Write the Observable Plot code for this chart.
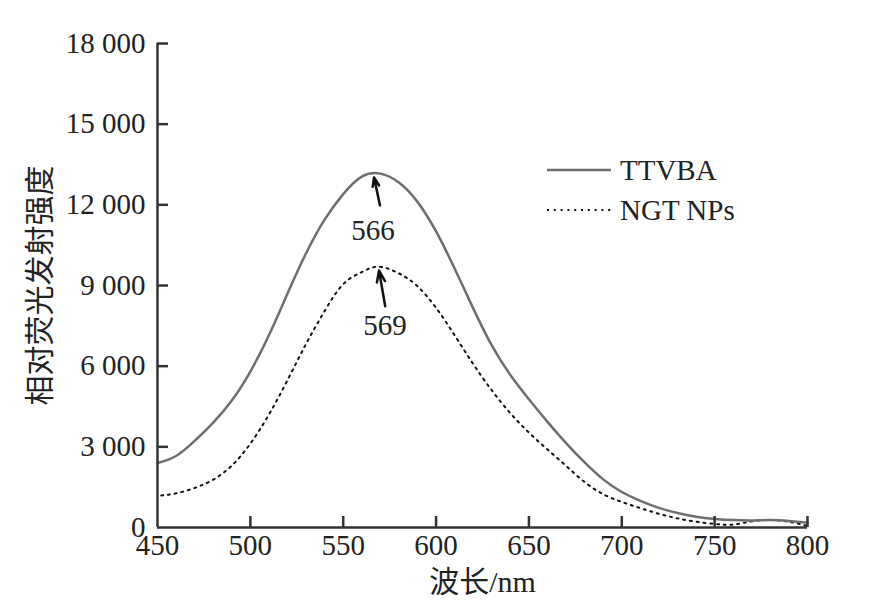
<!DOCTYPE html>
<html>
<head>
<meta charset="utf-8">
<script src="https://cdn.jsdelivr.net/npm/d3@7"></script>
<script src="https://cdn.jsdelivr.net/npm/@observablehq/plot@0.6"></script>
<style>
  body { margin: 0; background: #fff; }
  #wrap { position: relative; width: 869px; height: 615px; font-family: 'Liberation Serif', 'Noto Sans CJK SC', serif; }
  #legend { position: absolute; left: 546px; top: 150px; font-size: 29px; color: #222; line-height: 40px; }
  #legend div { display: flex; align-items: center; white-space: nowrap; }
  #legend svg { margin-right: 8px; }
</style>
</head>
<body>
<div id="wrap">
  <div id="chart"></div>
  <div id="legend"></div>
</div>
<script>
// Data
const seriesNames = ["TTVBA", "NGT NPs"];
const wlA = [450, 460, 470, 480, 490, 500, 510, 520, 530, 540, 550, 560, 570, 580, 590, 600, 610, 620, 630, 640, 650, 660, 670, 680, 690, 700, 710, 720, 730, 740, 750, 760, 770, 780, 790, 800];
const intA = [2400, 2660, 3220, 3900, 4720, 5800, 7150, 8700, 10200, 11450, 12400, 13050, 13160, 12830, 12110, 11010, 9630, 8150, 6770, 5670, 4770, 3930, 3140, 2420, 1790, 1320, 990, 730, 540, 400, 320, 275, 260, 275, 240, 180];
const wlB = [452, 460, 470, 480, 490, 500, 510, 520, 530, 540, 550, 560, 569, 580, 590, 600, 610, 620, 630, 640, 650, 660, 670, 680, 690, 700, 710, 720, 730, 740, 750, 756, 762, 770, 780, 790, 800];
const intB = [1190, 1270, 1470, 1780, 2300, 3120, 4200, 5480, 6830, 8050, 9050, 9500, 9700, 9450, 8970, 8170, 7150, 6080, 5100, 4250, 3530, 2900, 2290, 1690, 1240, 950, 720, 510, 340, 215, 135, 100, 125, 230, 280, 210, 60];
const xTicks = [450, 500, 550, 600, 650, 700, 750, 800];
const yTicks = [0, 3000, 6000, 9000, 12000, 15000, 18000];
const peakLabels = ["566", "569"];
const peakX = [566, 572.5];
const peakY = [11050, 7490];
const arrowX1 = [569.8, 572.6];
const arrowY1 = [11980, 8230];
const arrowX2 = [566.6, 569.3];
const arrowY2 = [13020, 9555];
const xLabel = "波长/nm";
const yLabel = "相对荧光发射强度";

const dataA = wlA.map((w, i) => ({w, v: intA[i]}));
const dataB = wlB.map((w, i) => ({w, v: intB[i]}));
const peaks = peakLabels.map((t, i) => ({t, x: peakX[i], y: peakY[i]}));
const arrows = arrowX1.map((x1, i) => ({x1, y1: arrowY1[i], x2: arrowX2[i], y2: arrowY2[i]}));

const fmt = d => d === 0 ? "0" : d3.format(",")(d).replace(/,/g, " ");

const W = 869, H = 615, ML = 157, MR = 62, MT = 43, MB = 88;
const frameW = W - ML - MR, frameH = H - MT - MB;
const tickLen = 11;
const axisColor = "#333";
const solidColor = "#6e6e6e";
const dotDash = "2,4.8";
const fontSize = 29;

const chart = Plot.plot({
  width: W, height: H,
  marginLeft: ML, marginRight: MR, marginTop: MT, marginBottom: MB,
  style: {fontFamily: "'Liberation Serif', 'Noto Sans CJK SC', serif", fontSize: fontSize + "px", color: "#222", background: "#fff"},
  x: {domain: [450, 800]},
  y: {domain: [0, 18000]},
  marks: [
    Plot.line(dataB, {x: "w", y: "v", stroke: "#111", strokeWidth: 2, strokeDasharray: dotDash, curve: "natural"}),
    Plot.line(dataA, {x: "w", y: "v", stroke: solidColor, strokeWidth: 2.5, curve: "natural"}),
    Plot.ruleX(xTicks.slice(1), {stroke: axisColor, strokeWidth: 2.5, insetTop: frameH - tickLen}),
    Plot.ruleY(yTicks.slice(1), {stroke: axisColor, strokeWidth: 2.5, insetRight: frameW - tickLen}),
    Plot.ruleX([450], {stroke: axisColor, strokeWidth: 2.5}),
    Plot.ruleY([0], {stroke: axisColor, strokeWidth: 2.5}),
    Plot.axisX({ticks: xTicks, tickSize: 0, tickPadding: 7, label: null}),
    Plot.axisY({ticks: yTicks, tickSize: 0, tickPadding: 12, tickFormat: fmt, label: null}),
    Plot.arrow(arrows, {x1: "x1", y1: "y1", x2: "x2", y2: "y2", stroke: "#111", strokeWidth: 2.5, headLength: 12, headAngle: 40}),
    Plot.text(peaks, {x: "x", y: "y", text: "t", fontSize, fill: "#222"}),
    Plot.text([xLabel], {frameAnchor: "bottom", dy: 64, fontSize: 30, fill: "#222"}),
    Plot.text([yLabel], {frameAnchor: "left", dx: -117, rotate: -90, textAnchor: "middle", lineAnchor: "middle", fontSize: 30, fill: "#222"})
  ]
});
document.getElementById("chart").appendChild(chart);

// Legend (inside the plot area, as in the reference)
const legend = document.getElementById("legend");
[[solidColor, null, 2.5], ["#111", dotDash, 2]].forEach(([c, dash, sw], i) => {
  const row = document.createElement("div");
  row.innerHTML = `<svg width="66" height="10"><line x1="1" y1="5" x2="65" y2="5" stroke="${c}" stroke-width="${sw}" ${dash ? `stroke-dasharray="${dash}"` : ""}/></svg><span>${seriesNames[i]}</span>`;
  legend.appendChild(row);
});
</script>
</body>
</html>
